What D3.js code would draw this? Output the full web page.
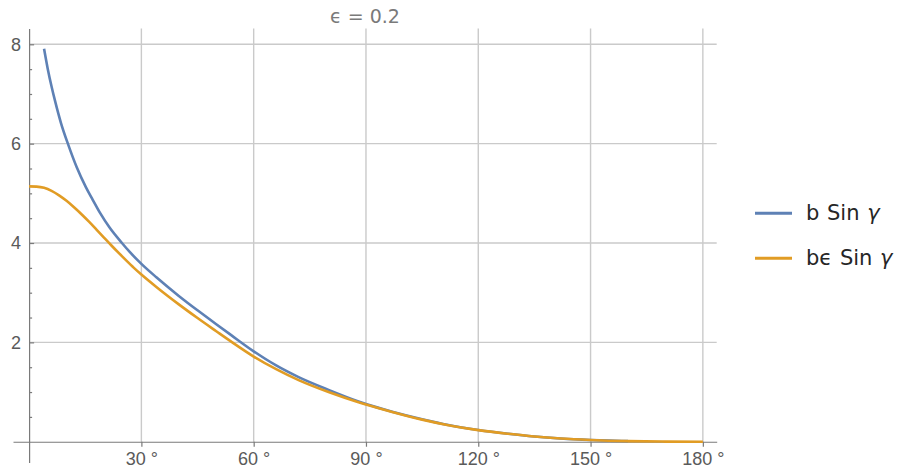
<!DOCTYPE html>
<html>
<head>
<meta charset="utf-8">
<script src="https://cdn.jsdelivr.net/npm/d3@7"></script>
<style>
  body { margin: 0; background: #fff; }
  svg { display: block; }
</style>
</head>
<body>
<script>
// values (gamma in degrees)
const bGamma = [4, 5, 6, 7, 8.5, 10.5, 12.7, 15.2, 17, 19, 21.5, 24.8, 27, 30, 34, 40, 45, 50, 54, 60, 66, 72, 80, 88, 90, 97, 105, 112, 120, 128, 135, 142, 150, 155, 160]
const bSin = [7.91, 7.5, 7.15, 6.84, 6.42, 5.97, 5.53, 5.12, 4.87, 4.6, 4.31, 4.0, 3.81, 3.58, 3.31, 2.935, 2.645, 2.365, 2.145, 1.82, 1.535, 1.3, 1.043, 0.81, 0.759, 0.605, 0.453, 0.337, 0.237, 0.16, 0.105, 0.065, 0.035, 0.022, 0.012]

const beGamma = [0, 2, 4, 6, 8, 10, 12, 14, 16, 18, 20, 22, 24, 26, 28, 30, 34, 40, 45, 50, 54, 60, 66, 72, 80, 88, 90, 97, 105, 112, 120, 128, 135, 142, 150, 160, 170, 180]
const beSin = [5.14, 5.135, 5.11, 5.05, 4.96, 4.85, 4.72, 4.58, 4.43, 4.27, 4.11, 3.95, 3.795, 3.645, 3.5, 3.365, 3.115, 2.765, 2.49, 2.225, 2.015, 1.715, 1.46, 1.24, 1.0, 0.795, 0.75, 0.6, 0.445, 0.333, 0.234, 0.16, 0.105, 0.065, 0.035, 0.012, 0.003, 0]

const xTicks = [30, 60, 90, 120, 150, 180]
const yTicks = [2, 4, 6, 8]
const yMinorTicks = [0.5, 1, 1.5, 2.5, 3, 3.5, 4.5, 5, 5.5, 6.5, 7, 7.5]

const seriesNames = [['b', ' Sin '], ['b\u03f5', ' Sin ']]
const titleText = '\u03f5 = 0.2'

const series = [
  { name: seriesNames[0], data: bGamma.map((g, i) => [g, bSin[i]]) },
  { name: seriesNames[1], data: beGamma.map((g, i) => [g, beSin[i]]) }
]

const width = 907
const height = 470

// colors
const blue = '#5e81b5'
const orange = '#e19c24'
const gridGray = '#cacaca'
const axisGray = '#7a7a7a'
const labelGray = '#5a5a5a'
const colors = [blue, orange]

const svg = d3
  .select('body')
  .append('svg')
  .attr('width', width)
  .attr('height', height)

const xScale = d3.scaleLinear().domain([-4.3, 183.7]).range([13, 716.7])
const yScale = d3.scaleLinear().domain([-0.42, 8.32]).range([462.6, 28.4])

// grid
const grid = svg.append('g').attr('class', 'grid')
grid
  .selectAll('.vgrid')
  .data(xTicks)
  .enter()
  .append('line')
  .attr('class', 'vgrid')
  .attr('x1', d => xScale(d))
  .attr('x2', d => xScale(d))
  .attr('y1', yScale(8.32))
  .attr('y2', yScale(0))
  .style('stroke', gridGray)
  .style('stroke-width', 1.4)

grid
  .selectAll('.hgrid')
  .data(yTicks)
  .enter()
  .append('line')
  .attr('class', 'hgrid')
  .attr('x1', xScale(0))
  .attr('x2', xScale(183.7))
  .attr('y1', d => yScale(d))
  .attr('y2', d => yScale(d))
  .style('stroke', gridGray)
  .style('stroke-width', 1.4)

// axes
const xAxis = d3
  .axisBottom(xScale)
  .tickValues(xTicks)
  .tickSize(5)
  .tickSizeOuter(0)
  .tickPadding(5.5)
  .tickFormat(d => `${d} °`)

svg
  .append('g')
  .attr('class', 'x axis')
  .attr('transform', `translate(0,${yScale(0)})`)
  .call(xAxis)

const yAxis = d3
  .axisLeft(yScale)
  .tickValues(yTicks)
  .tickSize(-5)
  .tickSizeOuter(0)
  .tickPadding(8)

svg
  .append('g')
  .attr('class', 'y axis')
  .attr('transform', `translate(${xScale(0)},0)`)
  .call(yAxis)

const yMinorG = svg
  .append('g')
  .attr('class', 'y minor')
  .attr('transform', `translate(${xScale(0)},0)`)
  .call(
    d3.axisLeft(yScale).tickValues(yMinorTicks).tickSize(-3).tickSizeOuter(0).tickFormat('')
  )
yMinorG.select('.domain').remove()

svg
  .selectAll('.axis path, .axis line, .minor line')
  .style('stroke', axisGray)
  .style('stroke-width', 1.2)

svg
  .selectAll('.axis text')
  .style('font-family', '"Liberation Sans", Arial, sans-serif')
  .style('font-size', '18px')
  .style('fill', labelGray)

// curves
const line = d3
  .line()
  .x(d => xScale(d[0]))
  .y(d => yScale(d[1]))
  .curve(d3.curveMonotoneX)

svg
  .selectAll('.curve')
  .data(series)
  .enter()
  .append('path')
  .attr('class', 'curve')
  .attr('d', d => line(d.data))
  .style('fill', 'none')
  .style('stroke', (d, i) => colors[i])
  .style('stroke-width', 2.6)
  .style('stroke-linejoin', 'round')

// title
svg
  .append('text')
  .attr('x', 365)
  .attr('y', 22.5)
  .style('text-anchor', 'middle')
  .style('font-family', '"DejaVu Sans", sans-serif')
  .style('font-size', '19px')
  .style('fill', '#7a7a7a')
  .text(titleText)

// legend
const legend = svg
  .selectAll('.legend')
  .data(series)
  .enter()
  .append('g')
  .attr('class', 'legend')
  .attr('transform', (d, i) => `translate(755,${213.3 + i * 45})`)

legend
  .append('line')
  .attr('x1', 0)
  .attr('x2', 37)
  .style('stroke', (d, i) => colors[i])
  .style('stroke-width', 3)

const legendText = legend
  .append('text')
  .attr('x', 51)
  .attr('y', 6.5)
  .style('font-family', '"DejaVu Sans", sans-serif')
  .style('font-size', '21px')
  .style('word-spacing', '1px')
  .style('fill', '#262626')

legendText.append('tspan').text(d => d.name[0])
legendText.append('tspan').text(d => d.name[1])
legendText
  .append('tspan')
  .style('font-style', 'italic')
  .text('\u03b3')
</script>
</body>
</html>
